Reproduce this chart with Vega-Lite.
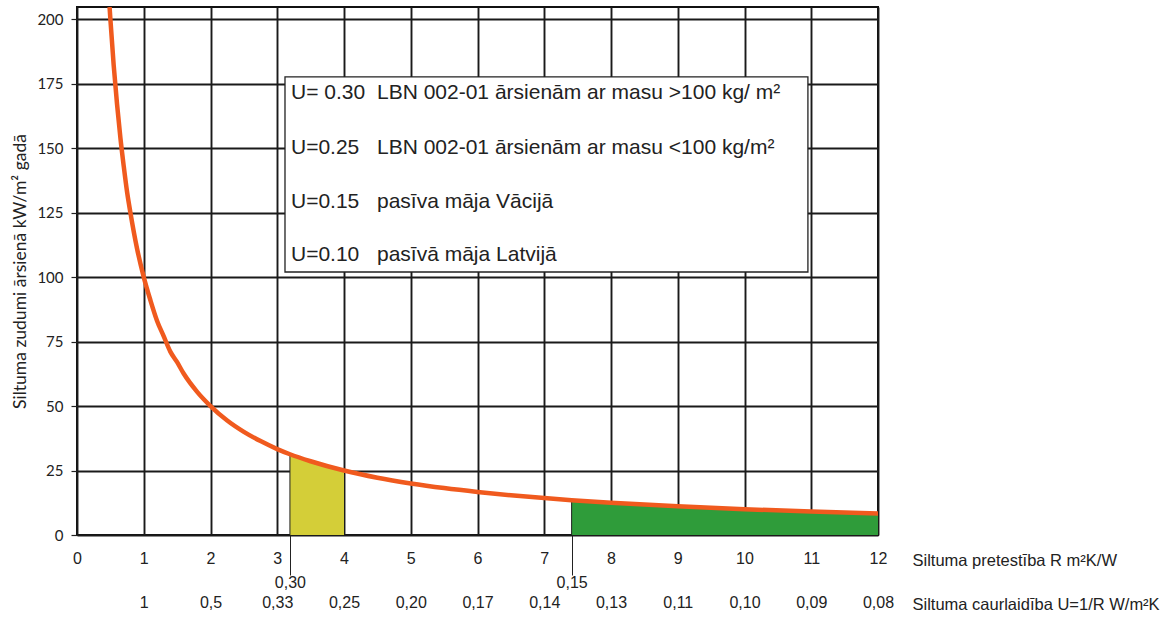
{
  "$schema": "https://vega.github.io/schema/vega-lite/v6.json",
  "width": 801,
  "height": 528,
  "autosize": {"type": "none"},
  "padding": {"left": 77, "top": 7, "right": 293, "bottom": 90},
  "background": "white",
  "config": {
    "view": {"stroke": "#111111", "strokeWidth": 2},
    "axis": {
      "labelFont": "Liberation Sans",
      "titleFont": "Liberation Sans",
      "labelColor": "#222222",
      "titleColor": "#222222",
      "titleFontWeight": "normal",
      "labelFlush": false,
      "labelOverlap": false
    }
  },
  "datasets": {
    "curve": [
      {"R": 0.488, "y": 204.7}, {"R": 0.5, "y": 200}, {"R": 0.55, "y": 182}, {"R": 0.6, "y": 167},
      {"R": 0.65, "y": 154}, {"R": 0.7, "y": 143}, {"R": 0.75, "y": 133}, {"R": 0.8, "y": 125},
      {"R": 0.9, "y": 111}, {"R": 1.0, "y": 100}, {"R": 1.1, "y": 91}, {"R": 1.2, "y": 83},
      {"R": 1.3, "y": 77}, {"R": 1.4, "y": 71}, {"R": 1.5, "y": 67}, {"R": 1.6, "y": 62.5},
      {"R": 1.8, "y": 55.5}, {"R": 2.0, "y": 50}, {"R": 2.25, "y": 44.4}, {"R": 2.5, "y": 40},
      {"R": 2.75, "y": 36.4}, {"R": 3.0, "y": 33.3}, {"R": 3.19, "y": 31.3}, {"R": 3.5, "y": 28.6},
      {"R": 4.0, "y": 25}, {"R": 4.5, "y": 22.2}, {"R": 5.0, "y": 20}, {"R": 5.5, "y": 18.2},
      {"R": 6.0, "y": 16.7}, {"R": 6.5, "y": 15.4}, {"R": 7.0, "y": 14.3}, {"R": 7.41, "y": 13.5},
      {"R": 8.0, "y": 12.5}, {"R": 9.0, "y": 11.1}, {"R": 10.0, "y": 10}, {"R": 11.0, "y": 9.1},
      {"R": 12.0, "y": 8.3}
    ],
    "yellow": [
      {"R": 3.19, "y": 31.3}, {"R": 3.5, "y": 28.6}, {"R": 3.75, "y": 26.7}, {"R": 4.0, "y": 25}
    ],
    "green": [
      {"R": 7.41, "y": 13.5}, {"R": 8.0, "y": 12.5}, {"R": 9.0, "y": 11.1}, {"R": 10.0, "y": 10},
      {"R": 11.0, "y": 9.1}, {"R": 12.0, "y": 8.3}
    ],
    "markers": [
      {"R": 3.19, "y": 31.3, "y0": 0}, {"R": 7.41, "y": 13.5, "y0": 0}
    ],
    "box": [
      {"R": 3.116, "R2": 10.95, "y": 101.96, "y2": 177.6}
    ],
    "codes": [
      {"R": 3.206, "y": 171.4, "text": "U= 0.30"},
      {"R": 3.206, "y": 150.0, "text": "U=0.25"},
      {"R": 3.206, "y": 129.1, "text": "U=0.15"},
      {"R": 3.206, "y": 108.6, "text": "U=0.10"},
      {"R": 4.494, "y": 171.4, "text": "LBN 002-01 ārsienām ar masu >100 kg/ m²"},
      {"R": 4.494, "y": 150.0, "text": "LBN 002-01 ārsienām ar masu <100 kg/m²"},
      {"R": 4.494, "y": 129.1, "text": "pasīva māja Vācijā"},
      {"R": 4.494, "y": 108.6, "text": "pasīvā māja Latvijā"}
    ]
  },
  "resolve": {"axis": {"x": "independent"}},
  "layer": [
    {
      "data": {"name": "yellow"},
      "mark": {"type": "area", "color": "#d4ce38", "opacity": 1},
      "encoding": {
        "x": {
          "field": "R", "type": "quantitative",
          "scale": {"domain": [0, 12], "nice": false, "zero": false},
          "axis": {
            "orient": "bottom", "values": [3.19, 7.41],
            "labelExpr": "datum.value < 5 ? '0,30' : '0,15'",
            "grid": false, "domain": false, "ticks": true, "tickSize": 40,
            "tickColor": "#222222", "tickWidth": 1, "labelPadding": -1,
            "labelFontSize": 16, "title": null
          }
        },
        "y": {
          "field": "y", "type": "quantitative",
          "scale": {"domain": [0, 204.7], "nice": false},
          "axis": {
            "values": [0, 25, 50, 75, 100, 125, 150, 175, 200],
            "grid": true, "gridColor": "#1a1a1a", "gridWidth": 1.9,
            "domain": false, "tickSize": 6, "tickColor": "#222222", "tickWidth": 1.2,
            "labelPadding": 8, "labelFont": "Lato", "labelFontSize": 15,
            "title": "Siltuma zudumi ārsienā kW/m² gadā",
            "titleFont": "Lato", "titleFontSize": 17.5,
            "titleX": -57, "titleBaseline": "middle"
          }
        }
      }
    },
    {
      "data": {"name": "green"},
      "mark": {"type": "area", "color": "#2f9c3a", "opacity": 1},
      "encoding": {
        "x": {
          "field": "R", "type": "quantitative",
          "axis": {
            "orient": "bottom", "values": [1, 2, 3, 4, 5, 6, 7, 8, 9, 10, 11, 12],
            "labelExpr": "['','1','0,5','0,33','0,25','0,20','0,17','0,14','0,13','0,11','0,10','0,09','0,08'][datum.value]",
            "grid": false, "domain": false, "ticks": false, "tickSize": 0,
            "labelPadding": 59, "labelFontSize": 16,
            "title": "Siltuma caurlaidība U=1/R W/m²K", "titleFontSize": 16.5,
            "titleX": 835, "titleY": 69, "titleAlign": "left", "titleBaseline": "middle", "titleAngle": 0
          }
        },
        "y": {"field": "y", "type": "quantitative"}
      }
    },
    {
      "data": {"name": "markers"},
      "mark": {"type": "rule", "color": "#222222", "strokeWidth": 1},
      "encoding": {
        "x": {"field": "R", "type": "quantitative", "axis": null},
        "y": {"field": "y0", "type": "quantitative"},
        "y2": {"field": "y"}
      }
    },
    {
      "data": {"name": "curve"},
      "mark": {"type": "line", "color": "#f05a1e", "strokeWidth": 4.5, "interpolate": "monotone", "clip": true},
      "encoding": {
        "x": {
          "field": "R", "type": "quantitative",
          "axis": {
            "orient": "bottom", "values": [0, 1, 2, 3, 4, 5, 6, 7, 8, 9, 10, 11, 12],
            "grid": true, "gridColor": "#1a1a1a", "gridWidth": 1.9,
            "domain": false, "ticks": false, "tickSize": 0,
            "labelPadding": 15, "labelFontSize": 16,
            "title": "Siltuma pretestība R m²K/W", "titleFontSize": 16.5,
            "titleX": 835, "titleY": 25, "titleAlign": "left", "titleBaseline": "middle", "titleAngle": 0
          }
        },
        "y": {"field": "y", "type": "quantitative"}
      }
    },
    {
      "data": {"name": "box"},
      "mark": {"type": "rect", "fill": "white", "stroke": "#222222", "strokeWidth": 1.3},
      "encoding": {
        "x": {"field": "R", "type": "quantitative", "axis": null},
        "x2": {"field": "R2"},
        "y": {"field": "y", "type": "quantitative"},
        "y2": {"field": "y2"}
      }
    },
    {
      "data": {"name": "codes"},
      "mark": {"type": "text", "align": "left", "baseline": "middle", "font": "Liberation Sans", "fontSize": 21, "color": "#222222"},
      "encoding": {
        "x": {"field": "R", "type": "quantitative", "axis": null},
        "y": {"field": "y", "type": "quantitative"},
        "text": {"field": "text"}
      }
    }
  ]
}
